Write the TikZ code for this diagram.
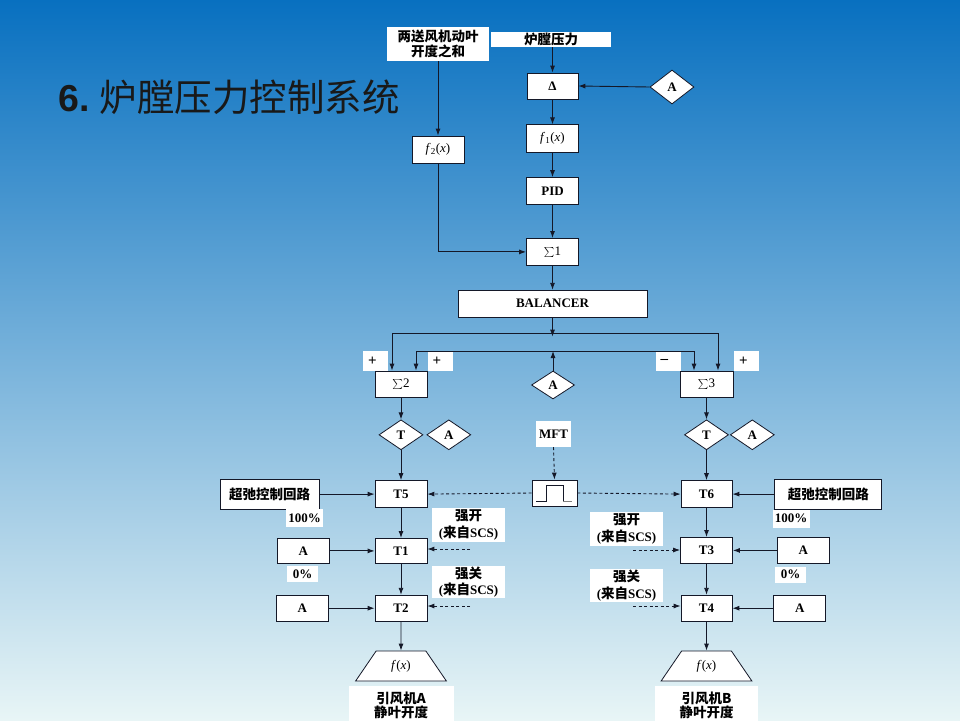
\documentclass[tikz,border=0pt]{standalone}
\usepackage{fontspec}
\setmainfont{Liberation Serif}
\newfontfamily\cjk{Noto Sans CJK SC}
\newfontfamily\biaotiziti{Liberation Sans}
\usetikzlibrary{shapes.geometric,arrows.meta,positioning,calc}
\definecolor{dingse}{RGB}{8,112,192}
\definecolor{zhongse}{RGB}{140,193,224}
\definecolor{dise}{RGB}{232,245,246}
\definecolor{xianse}{RGB}{20,24,40}
\newcommand{\hz}[1]{{\cjk\bfseries\fontsize{13.5}{15}\selectfont #1}}
\tikzset{
  kuang/.style={
    rectangle, draw=xianse, fill=white, line width=0.8pt,
    minimum width=52pt, minimum height=26pt, inner sep=1pt,
    align=center, font=\fontsize{13}{14}\selectfont\bfseries},
  lingxing/.style={
    diamond, draw=xianse, fill=white, line width=0.8pt,
    minimum width=44pt, minimum height=30pt, inner sep=0pt,
    font=\fontsize{13}{14}\selectfont\bfseries},
  biao/.style={
    rectangle, fill=white, inner sep=1pt, align=center,
    font=\fontsize{13}{14}\selectfont\bfseries},
  qiang/.style={biao, minimum width=73pt,
    font=\fontsize{13}{16.5}\selectfont\bfseries},
  fuhao/.style={biao, text width=15pt, inner xsep=5pt,
    minimum height=20pt, align=left, font=\fontsize{15}{16}\selectfont\bfseries},
  hanzi/.style={font=\cjk\bfseries\fontsize{13.5}{15}\selectfont},
  tixing/.style={
    trapezium, trapezium stretches=true, trapezium angle=56,
    draw=xianse, fill=white, line width=0.8pt,
    minimum width=91pt, minimum height=30pt, inner sep=0pt,
    font=\fontsize{13}{14}\selectfont},
  jiantou/.style={-{Latex[length=7pt,width=5pt]}, draw=xianse, line width=0.9pt},
  xujian/.style={jiantou, dash pattern=on 3pt off 2.5pt}
}
\begin{document}
\begin{tikzpicture}[x=1pt,y=1pt]

\shade[top color=dingse, middle color=zhongse, bottom color=dise]
  (0,0) rectangle (960,-720);
\useasboundingbox (0,0) rectangle (960,-720);

% title
\node[anchor=base west, inner sep=0pt, text=black!90] (biaoti) at (58,-111)
  {{\biaotiziti\bfseries\fontsize{37.5}{40}\selectfont 6.\ }{\cjk\fontsize{37.5}{40}\selectfont 炉膛压力控制系统}};

% main column
\node[biao, hanzi, minimum width=120pt, minimum height=15pt, inner sep=0pt]
  (lutang) at (551,-39.5) {炉膛压力};
\node[biao, hanzi, minimum width=102pt, minimum height=34pt]
  (liang) at (438,-44) {两送风机动叶\\开度之和};
\node[kuang, minimum width=51pt] (delta) at (552.5,-86) {Δ};
\node[lingxing, minimum height=34pt] (adelta) at (672,-87) {A};
\node[kuang, below=25pt of delta, minimum height=28pt] (f1)
  {\mdseries\textit{f}\textsubscript{1}(\textit{x})};
\node[kuang, below=24pt of f1, minimum height=27pt] (pid) {PID};
\node[kuang, below=33pt of pid, minimum height=27pt] (sum1) {\mdseries$\sum$1};
\node[kuang, below=24pt of sum1, minimum width=189pt, minimum height=27pt]
  (balancer) {BALANCER};
\node[kuang, minimum height=27pt] (f2) at (438,-149.5)
  {\mdseries\textit{f}\textsubscript{2}(\textit{x})};

\draw[jiantou] (delta.north |- lutang.south) -- (delta.north);
\draw[jiantou] (adelta.west) -- (delta.east);
\draw[jiantou] (delta) -- (f1);
\draw[jiantou] (f1) -- (pid);
\draw[jiantou] (pid) -- (sum1);
\draw[jiantou] (sum1) -- (balancer);
\draw[jiantou] (liang.south) -- (f2.north);
\draw[jiantou] (f2.south) |- (sum1.west);

% buses
\coordinate (fen)  at ([yshift=-19pt]balancer.south);
\coordinate (zuo1) at (392,-333);
\coordinate (you1) at (718,-333);
\coordinate (zuo2) at (416,-351);
\coordinate (you2) at (694,-351);

\node[kuang] (sum2) at (401,-384) {\mdseries$\sum$2};
\node[kuang, minimum width=53pt] (sum3) at (706.5,-384) {\mdseries$\sum$3};
\node[lingxing, minimum width=43pt, minimum height=28pt] (amid) at (553,-385) {A};

\node[fuhao] (jia1) at (375.5,-361) {+};
\node[fuhao] (jia2) at (440,-361) {+};
\node[fuhao] (jian3) at (668,-361) {–};
\node[fuhao] (jia4) at (746.5,-361) {+};

\draw[jiantou] (balancer.south) -- (fen);
\draw[xianse, line width=0.9pt] (zuo1) -- (you1);
\draw[xianse, line width=0.9pt] (zuo2) -- (you2);
\draw[jiantou] (zuo1) -- (zuo1 |- sum2.north);
\draw[jiantou] (zuo2) -- (zuo2 |- sum2.north);
\draw[jiantou] (you2) -- (you2 |- sum3.north);
\draw[jiantou] (you1) -- (you1 |- sum3.north);
\draw[jiantou] (amid.north) -- (amid.north |- zuo2);

% left branch
\node[lingxing, below=22pt of sum2] (tz) {T};
\node[lingxing, right=3pt of tz] (az) {A};
\node[kuang, below=30pt of tz, minimum height=27pt] (t5) {T5};
\node[kuang, below=30pt of t5, minimum height=25pt] (t1) {T1};
\node[kuang, below=31pt of t1] (t2) {T2};
\node[tixing, below=29pt of t2] (trz) {\textit{f}(\textit{x})};
\node[biao, below=4pt of trz, minimum width=105pt, minimum height=39pt,
  font=\cjk\bfseries\fontsize{13.5}{12}\selectfont] (chuz) {引风机A\\静叶开度};

\node[kuang, hanzi, left=55pt of t5, minimum width=99pt, minimum height=30pt]
  (chiz) {超弛控制回路};
\node[kuang, left=45pt of t1, minimum height=25pt] (az1) {A};
\node[kuang, left=46pt of t2] (az2) {A};
\node[biao, minimum width=37pt, minimum height=18pt] (bai1) at (304.5,-518) {100\%};
\node[biao, minimum width=31pt, minimum height=16pt] (ling1) at (302.5,-574) {0\%};

\node[qiang, minimum height=34pt] (qkz) at (468.5,-525)
  {\hz{强开}\\(\hz{来自}SCS)};
\node[qiang, minimum height=32pt] (qgz) at (468.5,-582)
  {\hz{强关}\\(\hz{来自}SCS)};
\coordinate (qkzs) at (470,-549);
\coordinate (qgzs) at (470,-606);

\draw[jiantou] (sum2) -- (tz);
\draw[jiantou] (tz) -- (t5);
\draw[jiantou] (t5) -- (t1);
\draw[jiantou] (t1) -- (t2);
\draw[jiantou] (t2) -- (trz);
\draw[jiantou] (chiz) -- (t5);
\draw[jiantou] (az1) -- (t1);
\draw[jiantou] (az2) -- (t2);
\draw[xujian] (qkzs) -- (qkzs -| t1.east);
\draw[xujian] (qgzs) -- (qgzs -| t2.east);

% right branch
\node[lingxing, below=22pt of sum3] (ty) {T};
\node[lingxing, right=1pt of ty] (ay) {A};
\node[kuang, below=30pt of ty, minimum width=51pt, minimum height=27pt] (t6) {T6};
\node[kuang, below=29pt of t6] (t3) {T3};
\node[kuang, below=31pt of t3, minimum width=51pt] (t4) {T4};
\node[tixing, below=29pt of t4] (try) {\textit{f}(\textit{x})};
\node[biao, below=4pt of try, minimum width=103pt, minimum height=39pt,
  font=\cjk\bfseries\fontsize{13.5}{12}\selectfont] (chuy) {引风机B\\静叶开度};

\node[kuang, hanzi, right=42pt of t6, minimum width=107pt, minimum height=30pt]
  (chiy) {超弛控制回路};
\node[kuang, right=44pt of t3] (ay1) {A};
\node[kuang, right=41pt of t4] (ay2) {A};
\node[biao, minimum width=37pt, minimum height=18pt] (bai2) at (791,-518.5) {100\%};
\node[biao, minimum width=31pt, minimum height=16pt] (ling2) at (790.5,-574.5) {0\%};

\node[qiang, minimum height=34pt] (qky) at (626.5,-529)
  {\hz{强开}\\(\hz{来自}SCS)};
\node[qiang, minimum height=32pt] (qgy) at (626.5,-585.5)
  {\hz{强关}\\(\hz{来自}SCS)};
\coordinate (qkys) at (633,-550);
\coordinate (qgys) at (633,-606);

\draw[jiantou] (sum3) -- (ty);
\draw[jiantou] (ty) -- (t6);
\draw[jiantou] (t6) -- (t3);
\draw[jiantou] (t3) -- (t4);
\draw[jiantou] (t4) -- (try);
\draw[jiantou] (chiy) -- (t6);
\draw[jiantou] (ay1) -- (t3);
\draw[jiantou] (ay2) -- (t4);
\draw[xujian] (qkys) -- (qkys -| t3.west);
\draw[xujian] (qgys) -- (qgys -| t4.west);

% MFT pulse
\node[biao, minimum width=35pt, minimum height=26pt] (mft) at (553.5,-434) {MFT};
\node[kuang, minimum width=45pt, minimum height=26pt] (maichong) at (554.5,-493) {};
\draw[xianse, line width=0.9pt] ([shift={(-18.5,-8)}]maichong.center)
  -- ++(10,0) -- ++(0,16) -- ++(17,0) -- ++(0,-16);
\draw[gray, line width=0.9pt] ([shift={(8.5,-8)}]maichong.center) -- ++(9,0);
\draw[xujian] (mft.south) -- (maichong.north);
\draw[xujian] (maichong.west) -- (t5.east);
\draw[xujian] (maichong.east) -- (t6.west);

\end{tikzpicture}
\end{document}
